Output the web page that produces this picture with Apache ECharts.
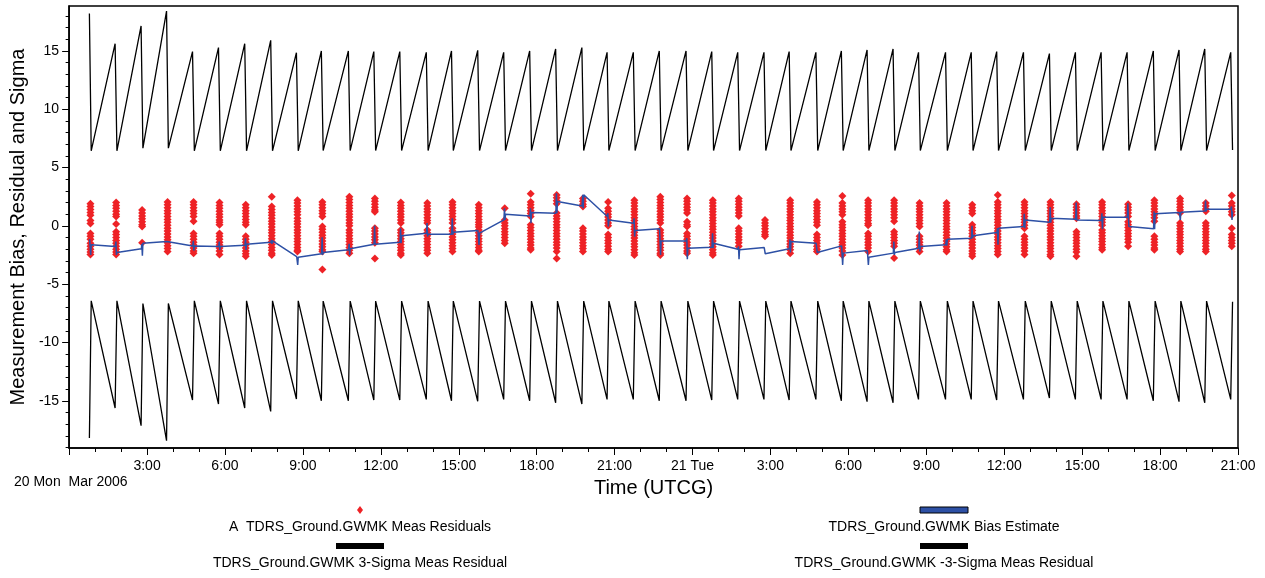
<!DOCTYPE html>
<html>
<head>
<meta charset="utf-8">
<title>TDRS_Ground.GWMK Meas Residuals</title>
<script src="https://cdn.jsdelivr.net/npm/echarts@6.0.0/dist/echarts.min.js"></script>
<style>
html, body { margin: 0; padding: 0; background: #fff; }
#chart_box { width: 1265px; height: 578px; }
</style>
</head>
<body>
<div id="chart_box"></div>
<script>
/* pass times, hours after 20 Mar 2006 00:00 UTCG */
var passHours = [0.82, 1.81, 2.81, 3.79, 4.79, 5.79, 6.80, 7.80, 8.79, 9.75,
	10.79, 11.77, 12.77, 13.79, 14.76, 15.77, 16.77, 17.77, 18.77, 19.78,
	20.75, 21.76, 22.76, 23.79, 24.78, 25.78, 26.79, 27.76, 28.79, 29.77,
	30.76, 31.76, 32.74, 33.78, 34.77, 35.75, 36.78, 37.78, 38.78, 39.77,
	40.77, 41.78, 42.77, 43.76, 44.76];

/* 3-sigma just before each pass, and right after it */
var sigmaPeak = [18.2, 15.62, 17.14, 18.42, 14.94, 15.28, 15.62, 15.91, 14.85, 15.0,
	15.0, 14.94, 14.94, 14.88, 15.0, 15.05, 14.88, 15.0, 15.17, 15.28,
	14.88, 14.88, 15.0, 15.0, 14.94, 14.88, 14.88, 14.94, 14.88, 15.0,
	15.08, 15.17, 14.88, 14.88, 14.88, 14.94, 14.88, 14.77, 14.88, 14.88,
	14.88, 15.0, 15.08, 15.17, 14.88];
var sigmaMin = [6.43, 6.43, 6.66, 6.66, 6.43, 6.43, 6.43, 6.43, 6.43, 6.45,
	6.45, 6.45, 6.45, 6.45, 6.45, 6.45, 6.45, 6.45, 6.45, 6.45,
	6.45, 6.45, 6.45, 6.45, 6.45, 6.45, 6.45, 6.45, 6.45, 6.45,
	6.45, 6.45, 6.45, 6.45, 6.45, 6.45, 6.45, 6.45, 6.45, 6.45,
	6.45, 6.45, 6.45, 6.45, 6.5];

/* bias estimate per pass: value entering, high, low, value leaving */
var biasIn = [-1.15, -1.77, -1.97, -1.35, -1.72, -1.77, -1.66, -1.40, -2.63, -2.40,
	-2.06, -1.57, -1.40, -0.63, -0.72, -0.40, 0.51, 0.85, 1.08, 1.71,
	0.80, 0.23, -0.26, -1.29, -1.83, -2.00, -1.86, -1.97, -1.49, -1.72,
	-2.12, -2.34, -1.92, -1.63, -1.06, -0.57, -0.06, 0.31, 0.57, 0.45,
	0.74, -0.26, 1.14, 1.28, 1.43];
var biasHi = [-1.15, -1.35, -1.57, -1.30, -1.29, -1.35, -1.06, -1.20, -2.49, -0.98,
	-1.55, 0.00, -0.20, 0.23, 0.65, -0.35, 1.51, 1.51, 2.80, 2.66,
	1.08, 0.65, -0.20, -1.06, -0.63, -1.77, -1.86, -1.15, -1.35, -1.63,
	-2.12, -1.35, -0.49, -1.15, 0.00, -0.20, 1.03, 1.60, 2.00, 1.08,
	1.94, 1.23, 1.23, 2.17, 1.66];
var biasLo = [-2.49, -2.49, -2.57, -1.45, -2.12, -2.06, -2.06, -1.55, -3.35, -2.49,
	-2.49, -1.57, -1.49, -0.92, -0.77, -1.63, 0.51, 0.23, 1.08, 1.51,
	-0.06, -0.92, -2.49, -2.86, -1.92, -2.86, -2.40, -2.29, -2.29, -3.35,
	-3.35, -2.49, -2.20, -1.70, -1.06, -1.63, -0.20, 0.28, 0.51, -0.29,
	0.74, -0.29, 0.51, 1.23, 0.51];
var biasOut = [-1.63, -2.29, -1.49, -1.35, -1.72, -1.77, -1.57, -1.29, -2.69, -2.29,
	-1.97, -1.40, -0.86, -0.69, -0.55, -0.63, 0.99, 1.14, 2.08, 2.66,
	0.51, -0.40, -1.29, -1.92, -1.49, -2.06, -2.40, -1.35, -2.26, -2.34,
	-2.69, -2.29, -1.77, -1.15, -0.86, -0.20, 0.51, 0.65, 0.57, 0.74,
	-0.06, 1.03, 1.17, 1.43, 1.23];

/* measurement residuals of each pass */
var residuals = [
	[1.9, 1.65, 1.4, 1.15, 0.9, 0.45, 0.2, -0.65, -0.9, -1.15, -1.5, -1.75, -2.0, -2.25, -2.45],
	[2.0, 1.75, 1.5, 1.25, 1.0, 0.8, 0.15, -0.5, -0.75, -1.0, -1.25, -1.5, -1.75, -2.0, -2.25, -2.45],
	[1.35, 1.1, 0.85, 0.6, 0.35, 0.1, -0.05, -1.45],
	[2.05, 1.8, 1.55, 1.3, 1.05, 0.8, 0.55, 0.3, 0.05, -0.2, -0.45, -0.7, -0.95, -1.2, -1.45, -1.7, -1.95, -2.2],
	[2.05, 1.8, 1.55, 1.3, 1.05, 0.8, 0.4, -0.65, -0.9, -1.15, -1.4, -1.65, -1.9, -2.15, -2.35],
	[2.0, 1.75, 1.5, 1.25, 1.0, 0.75, 0.5, 0.3, 0.1, -0.65, -0.9, -1.15, -1.4, -1.65, -1.9, -2.15, -2.45],
	[1.8, 1.55, 1.3, 1.05, 0.8, 0.55, 0.3, 0.1, -0.9, -1.15, -1.4, -1.65, -1.9, -2.15, -2.4, -2.6],
	[2.5, 1.65, 1.4, 1.15, 0.9, 0.65, 0.4, 0.15, -0.1, -0.35, -0.6, -0.85, -1.1, -1.35, -1.6, -1.85, -2.1, -2.35, -2.5],
	[2.2, 1.95, 1.7, 1.45, 1.2, 0.95, 0.65, 0.4, 0.15, -0.1, -0.35, -0.6, -0.85, -1.1, -1.35, -1.6, -1.85, -2.1, -2.2],
	[2.05, 1.8, 1.55, 1.3, 1.05, 0.8, -0.05, -0.3, -0.55, -0.8, -1.05, -1.3, -1.55, -1.8, -2.05, -2.2, -3.75],
	[2.5, 2.25, 2.0, 1.75, 1.5, 1.25, 1.0, 0.75, 0.5, 0.25, 0.0, -0.35, -0.6, -0.85, -1.1, -1.35, -1.6, -1.85, -2.1, -2.35],
	[2.35, 2.1, 1.85, 1.6, 1.35, 1.2, -0.2, -0.45, -0.7, -0.95, -1.2, -1.45, -2.8],
	[2.0, 1.75, 1.5, 1.25, 1.0, 0.75, 0.5, 0.25, -0.35, -0.6, -0.85, -1.1, -1.35, -1.6, -1.85, -2.1, -2.35, -2.5],
	[1.95, 1.7, 1.45, 1.2, 0.95, 0.7, 0.45, 0.25, -0.35, -0.6, -0.85, -1.1, -1.35, -1.6, -1.85, -2.1, -2.35],
	[2.05, 1.8, 1.55, 1.3, 1.05, 0.8, 0.55, 0.25, -0.2, -0.45, -0.7, -0.95, -1.2, -1.45, -1.7, -1.95, -2.2],
	[1.8, 1.55, 1.3, 1.05, 0.8, 0.55, 0.3, 0.1, -0.1, -0.35, -0.6, -0.85, -1.1, -1.35, -1.6, -1.85, -2.1, -2.2],
	[1.5, 0.5, 0.25, 0.0, -0.25, -0.5, -0.75, -1.0, -1.25, -1.5],
	[2.75, 2.05, 1.8, 1.55, 1.3, 1.05, 0.8, 0.1, -0.15, -0.4, -0.65, -0.9, -1.15, -1.4, -1.65, -1.9, -2.05],
	[2.65, 2.4, 2.15, 1.9, 1.1, 0.85, 0.6, 0.35, 0.1, -0.15, -0.4, -0.65, -0.9, -1.15, -1.4, -1.65, -1.9, -2.2, -2.8],
	[2.35, 2.1, 1.85, 1.65, -0.2, -0.45, -0.7, -0.95, -1.2, -1.45, -1.7, -1.95, -2.2],
	[2.05, 1.5, 1.25, 1.0, 0.75, 0.5, 0.25, 0.0, -0.75, -1.0, -1.25, -1.5, -1.75, -2.0, -2.2],
	[2.2, 1.95, 1.7, 1.45, 1.2, 0.95, 0.7, 0.45, 0.2, -0.05, -0.3, -0.55, -0.8, -1.05, -1.3, -1.55, -1.8, -2.05, -2.3, -2.5],
	[2.5, 2.25, 2.0, 1.75, 1.5, 1.25, 1.0, 0.75, 0.5, 0.25, -0.35, -0.6, -0.85, -1.1, -1.35, -1.6, -1.85, -2.1, -2.35, -2.5],
	[2.35, 2.1, 1.85, 1.6, 1.35, 1.1, 0.35, 0.1, -0.05, -0.65, -0.9, -1.15, -1.4, -1.65, -1.9, -2.15, -2.35],
	[2.2, 1.95, 1.7, 1.45, 1.2, 0.95, 0.7, 0.45, 0.2, -0.05, -0.3, -0.55, -0.8, -1.05, -1.3, -1.55, -1.8, -2.05, -2.3, -2.5],
	[2.35, 2.1, 1.85, 1.6, 1.35, 1.1, 0.85, -0.2, -0.45, -0.7, -0.95, -1.2, -1.45, -1.75],
	[0.5, 0.25, 0.0, -0.25, -0.5, -0.75, -0.9],
	[2.2, 1.95, 1.7, 1.45, 1.2, 0.95, 0.7, 0.45, 0.2, -0.05, -0.3, -0.55, -0.8, -1.05, -1.3, -1.55, -1.8, -2.05, -2.35],
	[2.05, 1.8, 1.55, 1.3, 1.05, 0.8, 0.55, 0.3, 0.05, -0.75, -1.0, -1.25, -1.5, -1.75, -2.0, -2.2],
	[2.55, 1.95, 1.7, 1.45, 1.2, 0.95, 0.35, 0.1, -0.15, -0.4, -0.65, -0.9, -1.15, -1.4, -1.65, -1.9, -2.15, -2.5],
	[2.2, 1.95, 1.7, 1.45, 1.2, 0.95, 0.7, 0.45, 0.2, 0.05, -0.65, -0.9, -1.15, -1.4, -1.65, -1.9, -2.2],
	[2.2, 1.95, 1.7, 1.45, 1.2, 0.95, 0.7, 0.4, -0.5, -0.75, -1.0, -1.25, -1.5, -1.75, -2.75],
	[1.95, 1.7, 1.45, 1.2, 0.95, 0.7, 0.45, 0.2, -0.05, -0.9, -1.15, -1.4, -1.65, -1.9, -2.2],
	[1.95, 1.7, 1.45, 1.2, 0.95, 0.7, 0.45, 0.2, -0.05, -0.3, -0.55, -0.8, -1.05, -1.3, -1.55, -1.8, -2.05, -2.2],
	[1.8, 1.55, 1.3, 1.05, 0.1, -0.15, -0.4, -0.65, -0.9, -1.15, -1.4, -1.65, -1.9, -2.15, -2.4, -2.6],
	[2.65, 2.05, 1.8, 1.55, 1.3, 1.05, 0.8, 0.55, 0.3, 0.05, -0.2, -0.45, -0.7, -0.95, -1.2, -1.45, -1.7, -1.95, -2.2, -2.45],
	[2.05, 1.8, 1.55, 1.3, 1.05, 0.8, 0.55, 0.3, 0.05, -0.2, -0.9, -1.15, -1.4, -1.65, -1.9, -2.15, -2.45],
	[2.05, 1.8, 1.55, 1.3, 1.05, 0.8, 0.55, 0.3, 0.05, -0.2, -0.45, -0.7, -0.95, -1.2, -1.45, -1.7, -1.95, -2.2, -2.45, -2.6],
	[1.85, 1.6, 1.35, 1.1, 0.85, 0.65, -0.5, -0.75, -1.0, -1.25, -1.5, -1.75, -2.0, -2.25, -2.6],
	[2.05, 1.8, 1.55, 1.3, 1.05, 0.8, 0.55, 0.3, 0.05, -0.35, -0.6, -0.85, -1.1, -1.35, -1.6, -1.85, -2.05],
	[1.85, 1.6, 1.35, 1.1, 0.8, 0.35, 0.1, -0.15, -0.4, -0.65, -0.9, -1.15, -1.4, -1.75],
	[2.2, 1.95, 1.7, 1.45, 1.2, 0.95, 0.7, 0.4, -0.9, -1.15, -1.4, -1.65, -1.9, -2.05],
	[2.35, 2.1, 1.85, 1.6, 1.35, 1.1, 0.25, 0.0, -0.25, -0.5, -0.75, -1.0, -1.25, -1.5, -1.75, -2.0, -2.2],
	[1.95, 1.7, 1.45, 1.25, 0.25, 0.0, -0.25, -0.5, -0.75, -1.0, -1.25, -1.5, -1.75, -2.0, -2.2],
	[2.6, 1.95, 1.7, 1.45, 1.2, 0.95, -0.2, -0.75, -1.0, -1.25, -1.5, -1.75]
];

/* axis ticks */
var xTickLabels = ['', '3:00', '6:00', '9:00', '12:00', '15:00', '18:00', '21:00',
	'21 Tue', '3:00', '6:00', '9:00', '12:00', '15:00', '18:00', '21:00'];
var yMajorTicks = [-15, -10, -5, 0, 5, 10, 15];
var yMinorTicks = [-19, -18, -17, -16, -15, -14, -13, -12, -11, -10, -9, -8, -7, -6, -5, -4, -3, -2, -1,
	0, 1, 2, 3, 4, 5, 6, 7, 8, 9, 10, 11, 12, 13, 14, 15, 16, 17, 18];

var FONT = 'Liberation Sans, Arial, sans-serif';
var RED = '#ee2226';
var BLUE = '#2d50a5';

/* build series data */
var residualData = [];
var sigmaUp = [];
var sigmaDown = [];
var biasData = [];
for (var i = 0; i < passHours.length; i++) {
	var t = passHours[i];
	for (var j = 0; j < residuals[i].length; j++) {
		residualData.push([t, residuals[i][j]]);
	}
	sigmaUp.push([t - 0.04, sigmaPeak[i]]);
	sigmaUp.push([t + 0.03, sigmaMin[i]]);
	sigmaDown.push([t - 0.04, -sigmaPeak[i]]);
	sigmaDown.push([t + 0.03, -sigmaMin[i]]);
	biasData.push([t - 0.03, biasIn[i]]);
	biasData.push([t - 0.01, biasHi[i]]);
	biasData.push([t + 0.01, biasLo[i]]);
	biasData.push([t + 0.03, biasOut[i]]);
}

var mychart = echarts.init(document.getElementById('chart_box'));
var option = {
	animation: false,
	backgroundColor: '#fff',
	textStyle: { fontFamily: FONT, color: '#000' },
	grid: {
		left: 67, right: 27, top: 6, bottom: 130,
		show: true, borderColor: '#000', borderWidth: 1.5, backgroundColor: '#fff'
	},
	xAxis: {
		type: 'value', min: 0, max: 45, interval: 3,
		name: 'Time (UTCG)', nameLocation: 'middle', nameGap: 30,
		nameTextStyle: { fontSize: 20, color: '#000', fontFamily: FONT },
		axisLine: { onZero: false, lineStyle: { color: '#000', width: 1.5 } },
		axisTick: { length: 7, lineStyle: { color: '#000', width: 1 } },
		minorTick: { show: true, splitNumber: 3, length: 4, lineStyle: { color: '#000', width: 1 } },
		axisLabel: {
			fontSize: 14, color: '#000', margin: 11, fontFamily: FONT,
			formatter: function(v) {
				return xTickLabels[Math.round(v / 3)];
			}
		},
		splitLine: { show: false },
		minorSplitLine: { show: false }
	},
	yAxis: [{
		type: 'value', min: -19.05, max: 18.85,
		name: 'Measurement Bias, Residual and Sigma', nameLocation: 'middle', nameGap: 40,
		nameTextStyle: { fontSize: 20, color: '#000', fontFamily: FONT },
		axisLine: { show: true, onZero: false, lineStyle: { color: '#000', width: 1.5 } },
		axisTick: { show: true, length: 7, customValues: yMajorTicks, lineStyle: { color: '#000', width: 1 } },
		axisLabel: { customValues: yMajorTicks, fontSize: 14, color: '#000', margin: 10, fontFamily: FONT },
		splitLine: { show: false }
	}, {
		type: 'value', min: -19.05, max: 18.85, position: 'left',
		axisLine: { show: false, onZero: false },
		axisTick: { show: true, length: 3.5, customValues: yMinorTicks, lineStyle: { color: '#000', width: 1 } },
		axisLabel: { show: false },
		splitLine: { show: false }
	}],
	series: [{
		name: 'TDRS_Ground.GWMK Meas Residuals',
		type: 'scatter',
		data: residualData,
		symbol: 'diamond',
		symbolSize: [8, 8],
		itemStyle: { color: RED, opacity: 1 },
		z: 2
	}, {
		name: 'TDRS_Ground.GWMK 3-Sigma Meas Residual',
		type: 'line',
		data: sigmaUp,
		showSymbol: false,
		lineStyle: { color: '#000', width: 1.3 },
		z: 3
	}, {
		name: 'TDRS_Ground.GWMK -3-Sigma Meas Residual',
		type: 'line',
		data: sigmaDown,
		showSymbol: false,
		lineStyle: { color: '#000', width: 1.3 },
		z: 3
	}, {
		name: 'TDRS_Ground.GWMK Bias Estimate',
		type: 'line',
		data: biasData,
		showSymbol: false,
		lineStyle: { color: BLUE, width: 1.5 },
		z: 4
	}],
	graphic: [
		{ type: 'text', left: 14, top: 475, style: { text: '20 Mon  Mar 2006', font: '14px ' + FONT, fill: '#000' } },
		/* legend: residuals */
		{ type: 'polygon', shape: { points: [[360, 506], [363, 510], [360, 514], [357, 510]] }, style: { fill: RED } },
		{ type: 'text', x: 360, y: 527, style: { text: 'A  TDRS_Ground.GWMK Meas Residuals', font: '14px ' + FONT, fill: '#000', align: 'center', verticalAlign: 'middle' } },
		/* legend: bias */
		{ type: 'rect', shape: { x: 920, y: 507, width: 48, height: 6 }, style: { fill: BLUE, stroke: '#000', lineWidth: 1 } },
		{ type: 'text', x: 944, y: 527, style: { text: 'TDRS_Ground.GWMK Bias Estimate', font: '14px ' + FONT, fill: '#000', align: 'center', verticalAlign: 'middle' } },
		/* legend: 3-sigma */
		{ type: 'rect', shape: { x: 336, y: 543, width: 48, height: 6 }, style: { fill: '#000' } },
		{ type: 'text', x: 360, y: 563, style: { text: 'TDRS_Ground.GWMK 3-Sigma Meas Residual', font: '14px ' + FONT, fill: '#000', align: 'center', verticalAlign: 'middle' } },
		/* legend: -3-sigma */
		{ type: 'rect', shape: { x: 920, y: 543, width: 48, height: 6 }, style: { fill: '#000' } },
		{ type: 'text', x: 944, y: 563, style: { text: 'TDRS_Ground.GWMK -3-Sigma Meas Residual', font: '14px ' + FONT, fill: '#000', align: 'center', verticalAlign: 'middle' } }
	]
};
mychart.setOption(option);
</script>
</body>
</html>
